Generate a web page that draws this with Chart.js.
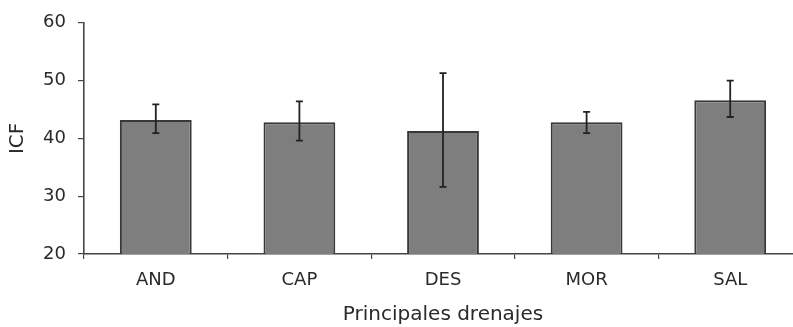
<!DOCTYPE html>
<html>
<head>
<meta charset="utf-8">
<script src="https://cdn.jsdelivr.net/npm/chart.js@4/dist/chart.umd.min.js"></script>
<style>
  html, body { margin: 0; padding: 0; background: #fff; overflow: hidden; }
  #wrap { position: relative; width: 802px; height: 327px; }
</style>
</head>
<body>
<div id="wrap"><canvas id="c"></canvas></div>
<script>
const categories = ['AND', 'CAP', 'DES', 'MOR', 'SAL'];
const icfMeans   = [43.2, 42.8, 41.3, 42.8, 46.6];
const errUpper   = [45.9, 46.4, 51.3, 44.6, 50.0];
const errLower   = [40.9, 39.6, 31.6, 40.9, 43.7];
const yTicks     = [20, 30, 40, 50, 60];
const xTitle = 'Principales drenajes';
const yTitle = 'ICF';

const FONT = "'DejaVu Sans', 'Liberation Sans', Arial, sans-serif";
const AXIS = '#454545';
const TEXT = '#2a2a2a';

const errorBars = {
  id: 'errorBars',
  afterDatasetsDraw(chart) {
    const { ctx, scales: { x, y } } = chart;
    ctx.save();
    ctx.strokeStyle = '#222';
    ctx.lineWidth = 1.8;
    categories.forEach((c, i) => {
      const px = x.getPixelForValue(i);
      const top = y.getPixelForValue(errUpper[i]);
      const bot = y.getPixelForValue(errLower[i]);
      const hw = 3.5;
      ctx.beginPath();
      ctx.moveTo(px, top); ctx.lineTo(px, bot);
      ctx.moveTo(px - hw, top); ctx.lineTo(px + hw, top);
      ctx.moveTo(px - hw, bot); ctx.lineTo(px + hw, bot);
      ctx.stroke();
    });
    ctx.restore();
  }
};

new Chart(document.getElementById('c'), {
  type: 'bar',
  data: {
    labels: categories,
    datasets: [{
      data: icfMeans,
      backgroundColor: '#7e7e7e',
      borderColor: '#383838',
      borderWidth: 2,
      borderSkipped: 'start',
      barPercentage: 0.5,
      categoryPercentage: 1.0
    }]
  },
  options: {
    responsive: true,
    maintainAspectRatio: false,
    animation: false,
    devicePixelRatio: 1,
    layout: { padding: { top: 21, left: 0, right: 0, bottom: 0 } },
    plugins: { legend: { display: false }, tooltip: { enabled: false } },
    scales: {
      x: {
        afterFit: (s) => { s.height = 73; },
        border: { display: true, color: AXIS, width: 1.6 },
        grid: { display: true, offset: true, drawOnChartArea: false, drawTicks: true, tickLength: 5, color: AXIS, lineWidth: 1.2 },
        ticks: { color: TEXT, font: { family: FONT, size: 18 }, padding: 11, maxRotation: 0 },
        title: { display: true, text: xTitle, color: TEXT, font: { family: FONT, size: 20 }, padding: { top: 0, bottom: 0 } }
      },
      y: {
        min: 20,
        max: 60,
        afterFit: (s) => { s.width = 84; },
        afterBuildTicks: (s) => { s.ticks = yTicks.map(v => ({ value: v })); },
        border: { display: true, color: AXIS, width: 1.6 },
        grid: { display: true, drawOnChartArea: false, drawTicks: true, tickLength: 6, color: AXIS, lineWidth: 1.2 },
        ticks: { color: TEXT, font: { family: FONT, size: 18 }, padding: 12 },
        title: { display: true, text: yTitle, color: TEXT, font: { family: FONT, size: 20 }, padding: { top: 6, bottom: 0 } }
      }
    }
  },
  plugins: [errorBars]
});
</script>
</body>
</html>
